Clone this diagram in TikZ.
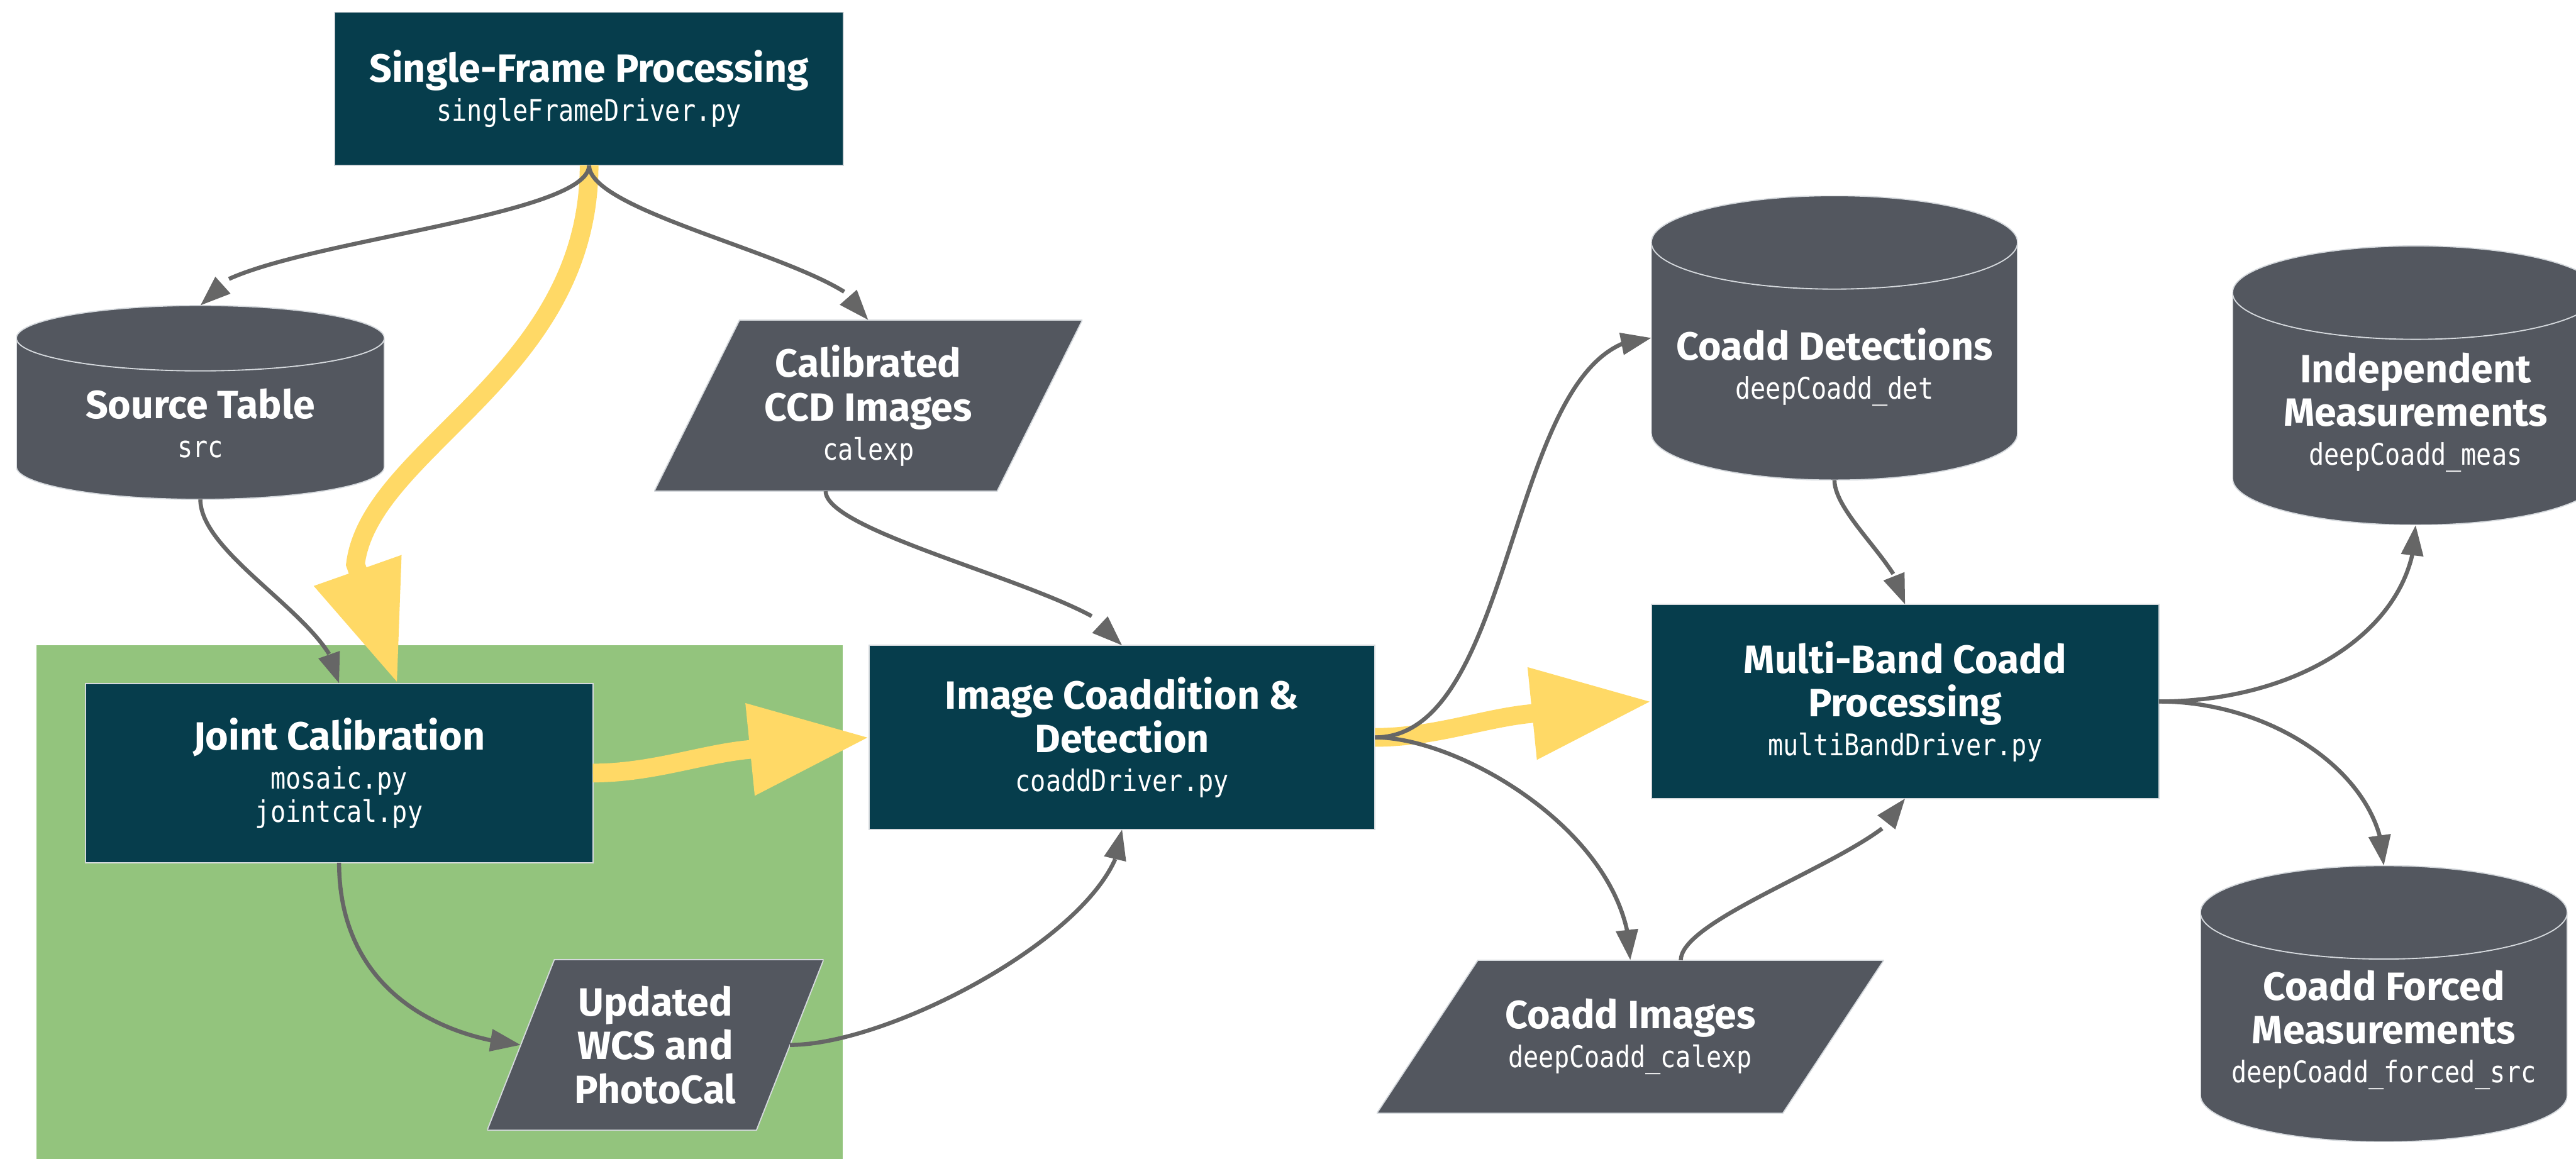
\documentclass[tikz,border=0pt]{standalone}
\usepackage{fontspec}
\setmainfont{Fira Sans}
\newfontfamily\codefamily[FakeStretch=0.85]{DejaVu Sans Mono}
\newcommand\titlefont{\fontsize{19.2}{21.3}\selectfont\bfseries}
\newcommand\codefont{\codefamily\mdseries\fontsize{14.5}{21.3}\selectfont}
\usetikzlibrary{arrows.meta,bending}
\definecolor{procfill}{HTML}{063D4C}
\definecolor{datafill}{HTML}{53575F}
\definecolor{edgegray}{HTML}{D5D9DD}
\definecolor{linegray}{HTML}{666666}
\definecolor{flowyellow}{HTML}{FFD966}
\definecolor{calibgreen}{HTML}{93C47D}
\begin{document}
\begin{tikzpicture}[
  txt/.style={text=white, align=center, font=\titlefont},
  proc/.style={txt, fill=procfill, draw=edgegray, line width=0.02cm, inner sep=0pt, outer sep=0pt},
  data/.style n args={3}{txt, minimum width=#1, minimum height=#2, inner sep=0pt, outer sep=0pt,
    path picture={
      \path[fill=datafill, draw=edgegray, line width=0.02cm]
        ([xshift=#3]path picture bounding box.north west) -- (path picture bounding box.north east)
        -- ([xshift=-#3]path picture bounding box.south east) -- (path picture bounding box.south west) -- cycle;
    }},
  store/.style n args={3}{minimum width=#1, minimum height=#2, inner sep=0pt, outer sep=0pt,
    path picture={
      \path[fill=datafill, draw=edgegray, line width=0.02cm]
        ([yshift=-#3]path picture bounding box.north west)
        arc[start angle=180, end angle=0, x radius=#1/2, y radius=#3]
        -- ([yshift=#3]path picture bounding box.south east)
        arc[start angle=0, end angle=-180, x radius=#1/2, y radius=#3] -- cycle;
      \draw[edgegray, line width=0.02cm] ([yshift=-#3]path picture bounding box.north west)
        arc[start angle=180, end angle=360, x radius=#1/2, y radius=#3];
    }},
  flow/.style={draw=linegray, line width=0.07cm, -{Triangle[length=0.52cm, width=0.37cm, flex]}},
  mainflow/.style={draw=flowyellow, line width=0.32cm, -{Triangle[length=2.05cm, width=1.5cm]}},
]
\useasboundingbox (0,0) rectangle (44.10,19.84); % fix the page size
\fill[calibgreen] (0.62,0) rectangle (14.43,8.79);

% processing steps
\node[proc, minimum width=8.71cm, minimum height=2.62cm] (sfp) at (10.085,18.32)
  {Single-Frame Processing\\[-0.08cm]\codefont singleFrameDriver.py};
\node[proc, minimum width=8.69cm, minimum height=3.07cm] (joint) at (5.805,6.605)
  {Joint Calibration\\[-0.08cm]\codefont mosaic.py\\[-0.18cm]\codefont jointcal.py};
\node[proc, minimum width=8.66cm, minimum height=3.15cm] (coadd) at (19.21,7.215)
  {Image Coaddition \&\\Detection\\[-0.08cm]\codefont coaddDriver.py};
\node[proc, minimum width=8.69cm, minimum height=3.32cm] (mbp) at (32.615,7.83)
  {Multi-Band Coadd\\Processing\\[-0.08cm]\codefont multiBandDriver.py};

% images
\node[data={7.33cm}{2.93cm}{1.46cm}] (calexp) at (14.865,12.895)
  {Calibrated\\CCD Images\\[-0.08cm]\codefont calexp};
\node[data={5.76cm}{2.92cm}{1.15cm}] (wcs) at (11.22,1.95)
  {Updated\\WCS and\\PhotoCal};
\node[data={8.68cm}{2.62cm}{1.73cm}] (cimg) at (27.91,2.09)
  {Coadd Images\\[-0.08cm]\codefont deepCoadd\_calexp};

% tables
\node[store={6.30cm}{3.32cm}{0.56cm},
  label={[txt, name=src-t, yshift=-0.36cm]center:{Source Table\\[-0.08cm]\codefont src}}] (src) at (3.43,12.95) {};
\node[store={6.27cm}{4.87cm}{0.8cm},
  label={[txt, name=det-t, yshift=-0.5cm]center:{Coadd Detections\\[-0.08cm]\codefont deepCoadd\_det}}] (det) at (31.405,14.055) {};
\node[store={6.27cm}{4.78cm}{0.8cm},
  label={[txt, name=ind-t, yshift=-0.46cm]center:{Independent\\Measurements\\[-0.08cm]\codefont deepCoadd\_meas}}] (ind) at (41.355,13.24) {};
\node[store={6.28cm}{4.73cm}{0.8cm},
  label={[txt, name=forced-t, yshift=-0.45cm]center:{Coadd Forced\\Measurements\\[-0.08cm]\codefont deepCoadd\_forced\_src}}] (forced) at (40.81,2.655) {};

% main path
\draw[mainflow] (sfp.south) .. controls +(0,-3.6) and +(0.25,2.0) .. ([shift={(0.28,2.04)}]joint.north)
  -- ([xshift=1cm]joint.north);
\draw[mainflow] (joint.east) .. controls +(1.0,0) and +(-0.8,-0.08) .. ([shift={(-2.08,-0.21)}]coadd.west)
  -- (coadd.west);
\draw[mainflow] (coadd.east) .. controls +(1.0,0) and +(-0.8,-0.08) .. ([shift={(-2.08,-0.21)}]mbp.west)
  -- (mbp.west);

% data flow
\draw[flow] (sfp.south) .. controls +(0,-1.0) and +(0,1.0) .. (src.north);
\draw[flow] (sfp.south) .. controls +(0,-0.9) and +(0,0.9) .. (calexp.north);
\draw[flow] (src.south) .. controls +(0,-1.0) and +(0,1.0) .. (joint.north);
\draw[flow] ([xshift=-0.73cm]calexp.south) .. controls +(0,-0.8) and +(0,0.8) .. (coadd.north);
\draw[flow] (joint.south) .. controls +(0,-2.1) and +(-1.5,0.15) .. ([xshift=0.575cm]wcs.west);
\draw[flow] ([xshift=-0.575cm]wcs.east) .. controls +(1.8,0) and +(0,-1.6) .. (coadd.south);
\draw[flow] (coadd.east) .. controls +(2.5,0) and +(-2.5,0) .. (det.west);
\draw[flow] (coadd.east) .. controls +(1.5,0) and +(0,2.1) .. (cimg.north);
\draw[flow] (det.south) .. controls +(0,-0.6) and +(0,0.6) .. (mbp.north);
\draw[flow] ([xshift=0.865cm]cimg.north) .. controls +(0,0.8) and +(0,-0.8) .. (mbp.south);
\draw[flow] (mbp.east) .. controls +(2.5,0) and +(0,-1.7) .. (ind.south);
\draw[flow] (mbp.east) .. controls +(2.0,0) and +(0,1.5) .. (forced.north);
\end{tikzpicture}
\end{document}
